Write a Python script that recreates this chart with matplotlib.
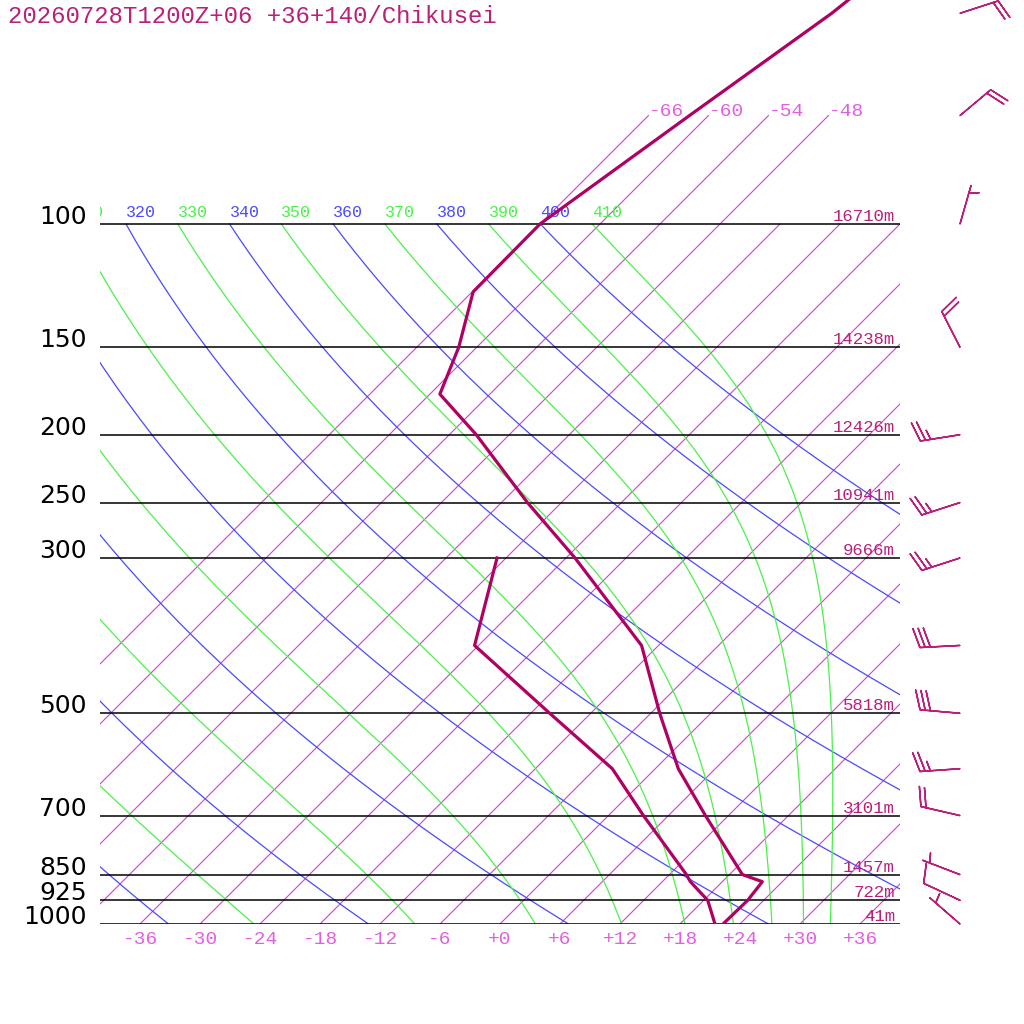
import numpy as np
import matplotlib
matplotlib.use("Agg")
import matplotlib.pyplot as plt

# sounding values
levels_t = [1000, 925, 870, 850, 700, 600, 500, 400, 300, 250, 200, 175, 150, 125, 100, 70, 50, 30]
temp = [22.3, 22.4, 22.0, 19.3, 9.7, 2.3, -5.1, -13.7, -29.1, -39.4, -51.3, -59.0, -61.8, -65.9, -66.0, -61.9, -57.9, -54.0]

levels_td = [1000, 925, 870, 850, 700, 600, 500, 400, 300]
dewp = [21.5, 18.4, 14.8, 13.7, 3.5, -4.3, -16.1, -30.4, -36.9]

levels_w = [1000, 925, 850, 700, 600, 500, 400, 300, 250, 200, 150, 100, 70, 50]
wdir = [311, 295, 291, 283, 266, 275, 267, 252, 252, 261, 333, 16, 50, 72]
wspd = [5, 10, 5, 20, 25, 30, 30, 25, 25, 25, 20, 5, 20, 20]

isobars = [1000, 925, 850, 700, 500, 300, 250, 200, 150, 100]
heights = ['41m', '722m', '1457m', '3101m', '5818m', '9666m', '10941m', '12426m', '14238m', '16710m']

isotherms = np.arange(-66, 37, 6)
dry_theta = np.arange(240, 401, 20)
moist_theta = np.arange(250, 411, 20)

title = '20260728T1200Z+06 +36+140/Chikusei'

PROF = '#b00062'
TXT = '#b8207a'
ISO = '#cc44cc'
ISO_TXT = '#e060e0'
BLUE = '#4a4aff'
GREEN = '#4cf04c'
MONO = 'Liberation Mono'

KAPPA = 0.2857
P_TOP = 10 ** (3 - 924 / 700)


def skew_x(t, p):
    # horizontal position on the skewed grid
    return np.asarray(t) + 70 * np.log10(1000 / np.asarray(p))


def moist_dtdp(t, p):
    es = 6.112 * np.exp(17.67 * (t - 273.15) / (t - 29.65))
    rs = 0.622 * es / (p - es)
    num = 287.04 * t + 2.501e6 * rs
    den = 1005.7 + 2.501e6 ** 2 * rs * 0.622 / (287.04 * t * t)
    return num / (den * p)


def moist_adiabat(theta, p):
    # integrate down from 100 hPa, starting on the dry adiabat value there
    t = theta * (p[0] / 1000) ** KAPPA
    out = [t]
    for i in range(1, len(p)):
        h = p[i] - p[i - 1]
        k1 = moist_dtdp(t, p[i - 1])
        k2 = moist_dtdp(t + h / 2 * k1, p[i - 1] + h / 2)
        k3 = moist_dtdp(t + h / 2 * k2, p[i - 1] + h / 2)
        k4 = moist_dtdp(t + h * k3, p[i])
        t = t + h / 6 * (k1 + 2 * k2 + 2 * k3 + k4)
        out.append(t)
    return np.array(out) - 273.15


def theta_label(ax, th, x0, color):
    # labels sit on the 100 hPa line; ones left of the box are skipped,
    # the one that starts just outside is clipped like in the original
    if x0 < -44:
        return
    ax.annotate(str(th), (x0, 100), xytext=(0, 3), textcoords='offset points',
                ha='left', va='bottom', fontsize=12, family=MONO, color=color,
                annotation_clip=False, clip_on=True)


fig = plt.figure(figsize=(10.24, 10.24), dpi=100)
ax = fig.add_axes([100 / 1024, 100 / 1024, 800 / 1024, 924 / 1024])
ax.set_yscale('log')
ax.set_xlim(-40, 40)
ax.set_ylim(1000, P_TOP)
ax.axis('off')

# isotherms
for t in isotherms:
    ptop = 70 if t <= -48 else 100
    pp = np.array([1000, ptop])
    ax.plot(skew_x([t, t], pp), pp, color=ISO, lw=0.8, zorder=2)
    if t >= -36:
        ax.annotate(f'{t:+d}', (t, 1000), xytext=(0, -5),
                    textcoords='offset points', ha='center', va='top',
                    fontsize=14, family=MONO, color=ISO_TXT, annotation_clip=False)
    if ptop == 70:
        ax.text(skew_x(t, 70), 70, f'{t:d}', ha='left', va='baseline',
                fontsize=14, family=MONO, color=ISO_TXT)

pp = np.linspace(100, 1000, 181)

# dry adiabats
for th in dry_theta:
    tt = th * (pp / 1000) ** KAPPA - 273.15
    ax.plot(skew_x(tt, pp), pp, color=BLUE, lw=0.9, zorder=2)
    theta_label(ax, th, skew_x(tt[0], 100), BLUE)

# moist adiabats
for th in moist_theta:
    tt = moist_adiabat(th, pp)
    ax.plot(skew_x(tt, pp), pp, color=GREEN, lw=0.9, zorder=2)
    theta_label(ax, th, skew_x(tt[0], 100), GREEN)

# isobars with labels and heights
for p, h in zip(isobars, heights):
    ax.axhline(p, color='black', lw=1.1, zorder=3)
    ax.text(-41.3, p, str(p), ha='right', va='baseline', fontsize=18,
            family='DejaVu Sans', color='black')
    ax.text(39.5, p, h, ha='right', va='bottom', fontsize=12.5, family=MONO, color=TXT,
            zorder=4)

# temperature and dew point
ax.plot(skew_x(temp, levels_t), levels_t, color=PROF, lw=2.3, zorder=5)
ax.plot(skew_x(dewp, levels_td), levels_td, color=PROF, lw=2.3, zorder=5)

# wind barbs
rad = np.deg2rad(wdir)
u = -np.array(wspd) * np.sin(rad)
v = -np.array(wspd) * np.cos(rad)
bx = np.full(len(levels_w), 46.0)
b = ax.barbs(bx, levels_w, u, v, length=7.6, color=TXT, lw=1.1,
             sizes=dict(spacing=0.13, height=0.48, width=0.3, emptybarb=0.0))
b.set_clip_on(False)

fig.text(8 / 1024, 1 - 5 / 1024, title, ha='left', va='top', fontsize=17.3,
         family=MONO, color=TXT)

fig.savefig('out.png', dpi=100)
